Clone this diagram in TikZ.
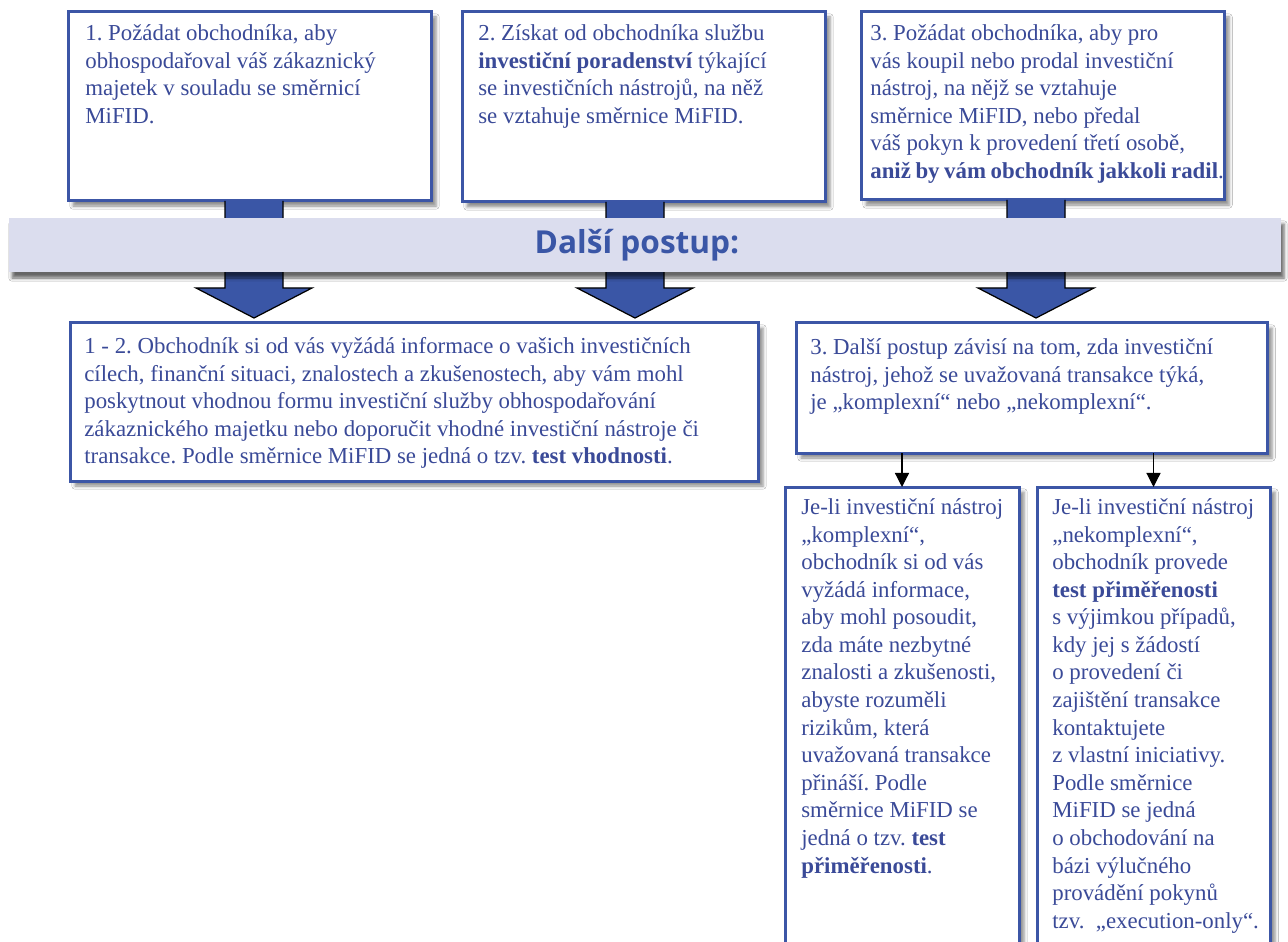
\documentclass[tikz,border=0pt]{standalone}
\usepackage{fontspec}
\setmainfont{Liberation Serif}
\newfontfamily\bandfont{Open Sans}
\usetikzlibrary{calc,arrows.meta,shadows.blur}
\definecolor{boxblue}{RGB}{60,86,166}
\definecolor{textblue}{RGB}{58,74,152}
\definecolor{arrowblue}{RGB}{58,86,166}
\definecolor{bandfill}{RGB}{219,221,238}
\newlength{\px}
\setlength{\px}{0.02cm}
\newcommand{\topstrut}{\rule{0pt}{12pt}}
\frenchspacing

\begin{document}
\begin{tikzpicture}
[x=0.02cm, y=-0.02cm,
 panel/.style={draw=boxblue, line width=3\px, fill=white, anchor=north west,
   inner sep=0pt, outer sep=0pt,
   blur shadow={shadow xshift=5\px, shadow yshift=-5\px, shadow opacity=45}},
 paneltext/.style={anchor=north west, inner sep=0pt, align=left, text=textblue,
   font=\fontsize{13pt}{15.7pt}\selectfont},
 bigarrow/.style={fill=arrowblue, draw=black, line width=0.7pt, line join=miter},
 smallarrow/.style={draw=black, line width=0.7pt, -{Triangle[length=8pt,width=8pt]}}]
\fill[white] (0,0) rectangle (1288,942);
\useasboundingbox (0,0) rectangle (1288,942);
\clip (0,0) rectangle (1288,942);

%% upper boxes
\node[panel, minimum width=363\px, minimum height=189\px] (boxA) at (68,12) {};
\node[panel, minimum width=363\px, minimum height=190\px] (boxB) at (462,12) {};
\node[panel, minimum width=363\px, minimum height=188\px] (boxC) at (861,12) {};
\node[paneltext] (txtA) at ([shift={(17,7)}]boxA.north west)
  {\topstrut 1. Požádat obchodníka, aby\\obhospodařoval váš zákaznický\\
   majetek v souladu se směrnicí\\MiFID.};
\node[paneltext] (txtB) at ([shift={(16,7)}]boxB.north west)
  {\topstrut 2. Získat od obchodníka službu\\\textbf{investiční poradenství} týkající\\
   se investičních nástrojů, na něž\\se vztahuje směrnice MiFID.};
\node[paneltext] (txtC) at ([shift={(9,7)}]boxC.north west)
  {\topstrut 3. Požádat obchodníka, aby pro\\vás koupil nebo prodal investiční\\
   nástroj, na nějž se vztahuje\\směrnice MiFID, nebo předal\\
   váš pokyn k provedení třetí osobě,\\
   {\bfseries\spaceskip=0.2em aniž by vám obchodník jakkoli radil}.};

%% lower boxes
\node[panel, minimum width=688\px, minimum height=158\px] (boxD) at (70,323) {};
\node[panel, minimum width=471\px, minimum height=130\px] (boxE) at (796,323) {};
\node[panel, minimum width=234\px, minimum height=480\px] (boxF) at (785,487) {};
\node[panel, minimum width=233\px, minimum height=480\px] (boxG) at (1037,487) {};
\node[paneltext] (txtD) at ([shift={(14,9)}]boxD.north west)
  {\topstrut 1 - 2. Obchodník si od vás vyžádá informace o vašich investičních\\
   cílech, finanční situaci, znalostech a zkušenostech, aby vám mohl\\
   poskytnout vhodnou formu investiční služby obhospodařování\\
   zákaznického majetku nebo doporučit vhodné investiční nástroje či\\
   transakce. Podle směrnice MiFID se jedná o tzv. \textbf{test vhodnosti}.};
\node[paneltext] (txtE) at ([shift={(14,10)}]boxE.north west)
  {\topstrut 3. Další postup závisí na tom, zda investiční\\
   nástroj, jehož se uvažovaná transakce týká,\\
   je „komplexní“ nebo „nekomplexní“.};
\node[paneltext] (txtF) at ([shift={(16,6)}]boxF.north west)
  {\topstrut Je-li investiční nástroj\\„komplexní“,\\obchodník si od vás\\
   vyžádá informace,\\aby mohl posoudit,\\zda máte nezbytné\\
   znalosti a zkušenosti,\\abyste rozuměli\\rizikům, která\\
   uvažovaná transakce\\přináší. Podle\\směrnice MiFID se\\
   jedná o tzv. \textbf{test}\\\textbf{přiměřenosti}.};
\node[paneltext] (txtG) at ([shift={(15,6)}]boxG.north west)
  {\topstrut Je-li investiční nástroj\\„nekomplexní“,\\obchodník provede\\
   \textbf{test přiměřenosti}\\s výjimkou případů,\\kdy jej s žádostí\\
   o provedení či\\zajištění transakce\\kontaktujete\\z vlastní iniciativy.\\
   Podle směrnice\\MiFID se jedná\\o obchodování na\\bázi výlučného\\
   provádění pokynů\\tzv.~ „execution-only“.};

%% block arrows, the band is laid over them
\foreach \src/\dst/\cx in {boxA/boxD/254, boxB/boxD/635, boxC/boxE/1036} {
  \coordinate (col) at (\cx,0);
  \coordinate (tip) at ($(\dst.north -| col)+(0,-5)$);
  \draw[bigarrow] ($(\src.south -| col)+(-29,0)$) |- ($(tip)+(-58,-30)$) -- (tip)
    -- ($(tip)+(58,-30)$) -| ($(\src.south -| col)+(29,0)$);
}
\node[fill=bandfill, minimum width=1272\px, minimum height=54\px, inner sep=0pt,
  text=arrowblue, font=\bandfont\bfseries\fontsize{18pt}{20pt}\selectfont,
  blur shadow={shadow xshift=3\px, shadow yshift=-6\px, shadow opacity=60}]
  (band) at (645,245) {Další postup:\hspace*{16\px}};

%% split of box 3
\foreach \dst in {boxF, boxG}
  \draw[smallarrow] (boxE.south -| \dst.north) -- (\dst.north);
\end{tikzpicture}
\end{document}
